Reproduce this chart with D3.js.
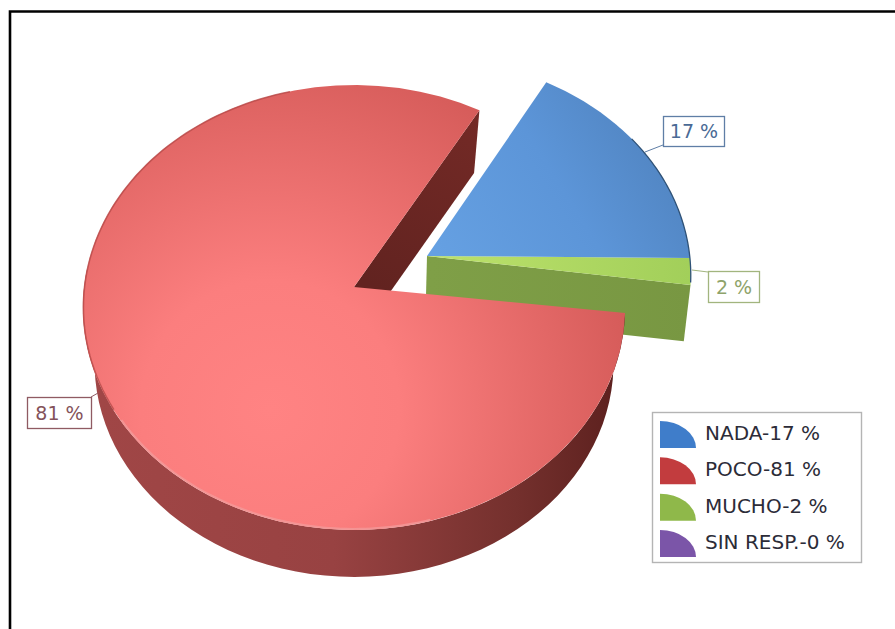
<!DOCTYPE html>
<html><head><meta charset="utf-8">
<script src="https://cdn.jsdelivr.net/npm/d3@7"></script>
<style>html,body{margin:0;padding:0;background:#fff}svg{display:block}text{font-family:"DejaVu Sans",sans-serif}</style>
</head><body><div id="c"></div>
<script>
const categories = ["NADA","POCO","MUCHO","SIN RESP."];
const values = [17,81,2,0];
const W=895,H=629;
const svg=d3.select("#c").append("svg").attr("width",W).attr("height",H);
const defs=svg.append("defs");

// frame
svg.append("path").attr("d",`M10,${H} V11.5 H${W}`).attr("fill","none").attr("stroke","#000").attr("stroke-width",2.6);

// perspective projection of the pie disc
const Rx=270,Ry=220.6,K=0.092,sinkY=0.9622,nadirY=1773,nadirX=355;
const proj=(cx,cy,r,a)=>{const u=Math.sin(a)*r,v=-Math.cos(a)*r,w=1-K*v;return [cx+Rx*u/w,cy+Ry*v/w];};
const dropBy=sx=>p=>[nadirX+sx*(p[0]-nadirX),nadirY+sinkY*(p[1]-nadirY)];
const drop=dropBy(0.98),dropRed=dropBy(0.957);
const line=d3.line();
const arcPts=(cx,cy,r,a0,a1)=>d3.range(0,61).map(i=>proj(cx,cy,r,a0+(a1-a0)*i/60));
const rad=d=>d*Math.PI/180;

// slices run counter-clockwise from the 3 o'clock direction
const arcs=d3.pie().sort(null).value(d=>d).startAngle(rad(90.5)).endAngle(rad(90.5-360))(values);
const centers=[{x:427,y:256,r:.973},{x:354,y:287,r:1},{x:427,y:256,r:.973},{x:427,y:256,r:.973}];

function grad(id,kind,attrs,stops){const g=defs.append(kind).attr("id",id).attr("gradientUnits","userSpaceOnUse");
  Object.entries(attrs).forEach(([k,v])=>g.attr(k,v));
  stops.forEach(s=>g.append("stop").attr("offset",s[0]).attr("stop-color",s[1]));}
grad("redTop","radialGradient",{cx:270,cy:410,r:370},[[0,"#ff8383"],[.35,"#fb7e7e"],[1,"#d55b59"]]);
grad("redWall","linearGradient",{x1:100,y1:0,x2:620,y2:0},[[0,"#a04646"],[.45,"#984242"],[.8,"#74302d"],[1,"#5c201e"]]);
grad("redCut","linearGradient",{x1:480,y1:110,x2:380,y2:290},[[0,"#742a26"],[1,"#622320"]]);
grad("blueTop","linearGradient",{x1:440,y1:260,x2:680,y2:110},[[0,"#65a0e2"],[.5,"#5c95d8"],[1,"#4e80bb"]]);
grad("greenTop","linearGradient",{x1:430,y1:0,x2:690,y2:0},[[0,"#bde26c"],[1,"#a2cf5a"]]);
grad("greenCut","linearGradient",{x1:430,y1:0,x2:690,y2:0},[[0,"#7f9f47"],[1,"#789742"]]);

const g=svg.append("g");
// green slice (its near cut face is the large visible wall)
const gr=arcs[2],gc=centers[2];
const gEnd=proj(gc.x,gc.y,gc.r,gr.startAngle);
g.append("path").attr("d",line([[gc.x,gc.y],gEnd,drop(gEnd),drop([gc.x,gc.y])])+"Z").attr("fill","url(#greenCut)");
g.append("path").attr("d",line([[gc.x,gc.y],...arcPts(gc.x,gc.y,gc.r,gr.startAngle,gr.endAngle)])+"Z").attr("fill","url(#greenTop)");
// blue slice
const bl=arcs[0],bc=centers[0];
g.append("path").attr("d",line([[bc.x,bc.y],...arcPts(bc.x,bc.y,bc.r,bl.startAngle,bl.endAngle)])+"Z").attr("fill","url(#blueTop)");
g.append("path").attr("d",line(arcPts(bc.x,bc.y,bc.r,rad(97),rad(55)))).attr("fill","none").attr("stroke","#2f5277").attr("stroke-width",1.3);
// red slice: angle runs from startAngle down to endAngle (small flare for the perspective of the source)
const rd=arcs[1],rc=centers[1];
const a0=rd.startAngle+rad(.8),a1=rd.endAngle-rad(1);
const rStart=proj(rc.x,rc.y,rc.r,a0);
const topArc=arcPts(rc.x,rc.y,rc.r,a0,a1);
g.append("path").attr("d",line([[rc.x,rc.y],rStart,dropRed(rStart),dropRed([rc.x,rc.y])])+"Z").attr("fill","url(#redCut)");
const wallArc=arcPts(rc.x,rc.y,rc.r,a1,rad(-85));
g.append("path").attr("d",line([...wallArc,...wallArc.map(dropRed).reverse()])+"Z").attr("fill","url(#redWall)");
g.append("path").attr("d",line([[rc.x,rc.y],...topArc])+"Z").attr("fill","url(#redTop)");
// rim highlights
g.append("path").attr("d",line(arcPts(rc.x,rc.y,rc.r-.004,rad(-125),rad(-195)))).attr("fill","none").attr("stroke","#f29a9a").attr("stroke-width",2).attr("opacity",.8);
g.append("path").attr("d",line(arcPts(rc.x,rc.y,rc.r-.002,rad(-15),rad(-122)))).attr("fill","none").attr("stroke","#b84a48").attr("stroke-width",1.6).attr("opacity",.8);

// callouts
const callouts=[
 {i:0,box:[663,116,61,30],lead:[[645,152],[663,145]],stroke:"#5f7ea6",text:"#4a6a95"},
 {i:2,box:[708,271,51,31],lead:[[692,270],[708,272]],stroke:"#a2b57e",text:"#8ea36a"},
 {i:1,box:[27,397,64,31],lead:[[91,397],[98,393]],stroke:"#8f5a62",text:"#84525a"}];
callouts.forEach(c=>{
 svg.append("path").attr("d",line(c.lead)).attr("fill","none").attr("stroke",c.stroke);
 svg.append("rect").attr("x",c.box[0]+.5).attr("y",c.box[1]+.5).attr("width",c.box[2]).attr("height",c.box[3]).attr("fill","#fff").attr("stroke",c.stroke).attr("stroke-width",1.3);
 svg.append("text").attr("x",c.box[0]+c.box[2]/2+.5).attr("y",c.box[1]+c.box[3]/2+7).attr("text-anchor","middle").attr("font-size",19).attr("fill",c.text).text(values[c.i]+" %");
});

// legend
const legendColors=["#3f7dca","#c23c3e","#8fb84a","#7b55a8"];
svg.append("rect").attr("x",652.5).attr("y",412.5).attr("width",209).attr("height",150).attr("fill","#fff").attr("stroke","#b4b4b4").attr("stroke-width",1.4);
const legY=d3.scalePoint().domain(categories).range([448,557]);
const icon=d3.arc().innerRadius(0).outerRadius(1).startAngle(0).endAngle(Math.PI/2);
categories.forEach((c,i)=>{
 svg.append("path").attr("d",icon()).attr("transform",`translate(660,${legY(c)}) scale(36,27)`).attr("fill",legendColors[i]);
 svg.append("text").attr("x",705).attr("y",legY(c)-8).attr("font-size",20).attr("fill","#2c2c38").text(`${c}-${values[i]} %`);
});
</script></body></html>
